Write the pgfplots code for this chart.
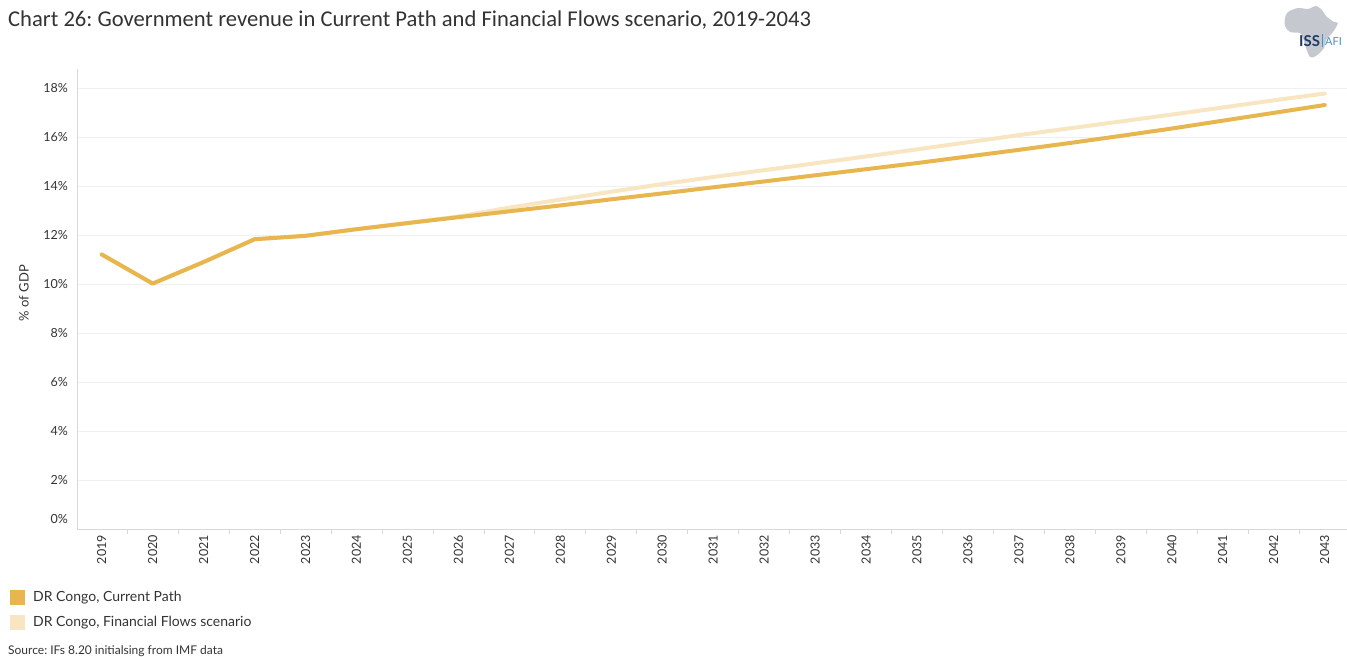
\documentclass[border=0pt]{standalone}
\usepackage{pgfplots}
\pgfplotsset{compat=1.18}
\usepackage{fontspec}
\setmainfont{Lato}
\newfontfamily\titlefont{Carlito}
\frenchspacing
\definecolor{cp}{HTML}{E8B64F}
\definecolor{ff}{HTML}{F8E5C2}
\definecolor{gridc}{HTML}{F0F0F0}
\definecolor{axc}{HTML}{D9D9D9}
\definecolor{txt}{HTML}{333333}
\definecolor{navy}{HTML}{1F3A64}
\definecolor{lblue}{HTML}{4A90C8}
\definecolor{africa}{HTML}{C5C9CF}
\begin{document}
\begin{tikzpicture}
\useasboundingbox (0,0) rectangle (1347bp,-657bp);
\begin{axis}[
  at={(77bp,-529bp)}, anchor=south west,
  width=1270.7bp, height=460bp, scale only axis,
  xmin=2018.515, xmax=2043.45, ymin=0, ymax=18.78,
  axis x line*=bottom, axis y line*=left,
  axis line style={axc, line width=1bp, -},
  xtick={2019,...,2043},
  minor xtick={2019.5,2020.5,...,2042.5},
  major tick length=0pt, minor tick length=5bp,
  minor tick style={axc, line width=0.8bp}, tick align=outside,
  ytick={2,4,...,18},
  extra y ticks={0},
  extra y tick style={yticklabel style={yshift=10bp}, grid=none},
  ymajorgrids, major grid style={gridc, line width=1bp},
  yticklabel={\pgfmathprintnumber{\tick}\%},
  /pgf/number format/1000 sep={}, /pgf/number format/assume math mode=true,
  tick label style={font=\fontsize{12.5bp}{14bp}\selectfont, text=txt},
  xticklabel style={rotate=90, anchor=east, inner xsep=6bp, inner ysep=0pt},
  yticklabel style={anchor=east, inner sep=0pt, xshift=-9bp},
  ylabel={\% of GDP},
  every axis y label/.style={at={(axis description cs:-0.0417,0.513)}, rotate=90, anchor=center, font=\fontsize{13bp}{15bp}\selectfont, text=txt},
  legend style={at={(axis description cs:-0.0543,-0.131)}, anchor=north west, draw=none, fill=none, font=\fontsize{14bp}{16bp}\selectfont, text=txt, row sep=9bp, inner sep=0pt, cells={anchor=west}},
  legend image code/.code={\fill[#1, draw=none] (2bp,-7.5bp) rectangle (17bp,7.5bp); \path[draw=none, fill=none] (0bp,0bp) rectangle (23bp,0bp);},
  reverse legend,
]
\addplot[ff, line width=4bp, line join=round, line cap=round] coordinates {
(2019,11.21) (2020,10.02) (2021,10.90) (2022,11.83) (2023,11.97) (2024,12.24) (2025,12.49)
(2026,12.76) (2027,13.12) (2028,13.45) (2029,13.77) (2030,14.08) (2031,14.37) (2032,14.65)
(2033,14.93) (2034,15.21) (2035,15.50) (2036,15.79) (2037,16.08) (2038,16.36) (2039,16.64)
(2040,16.92) (2041,17.21) (2042,17.50) (2043,17.78)};
\addlegendentry{DR Congo, Financial Flows scenario}
\addplot[cp, line width=4bp, line join=round, line cap=round] coordinates {
(2019,11.21) (2020,10.02) (2021,10.90) (2022,11.83) (2023,11.97) (2024,12.24) (2025,12.49)
(2026,12.73) (2027,12.97) (2028,13.21) (2029,13.46) (2030,13.70) (2031,13.95) (2032,14.19)
(2033,14.44) (2034,14.69) (2035,14.94) (2036,15.21) (2037,15.48) (2038,15.76) (2039,16.05)
(2040,16.35) (2041,16.67) (2042,16.99) (2043,17.31)};
\addlegendentry{DR Congo, Current Path}
\end{axis}
\begin{scope}[x=1bp,y=-1bp]
\node[anchor=base west, inner sep=0pt, text=txt, font=\titlefont\fontsize{22.6bp}{25bp}\selectfont] at (8,26) {Chart 26: Government revenue in Current Path and Financial Flows scenario, 2019-2043};
\node[anchor=base west, inner sep=0pt, text=txt, font=\fontsize{12bp}{14bp}\selectfont] at (8,654) {Source: IFs 8.20 initialsing from IMF data};
\fill[africa] plot[smooth cycle, tension=0.5] coordinates {(1288,12) (1298,8) (1308,9) (1316,6) (1322,10) (1326,16) (1334,22) (1338,23) (1333,32) (1326,40) (1324,48) (1316,56) (1310,57) (1306,48) (1303,38) (1300,33) (1290,32) (1285,26) (1285,18)};
\node[anchor=base west, inner sep=0pt, text=navy, font=\bfseries\fontsize{15bp}{16bp}\selectfont] at (1299,46) {ISS};
\draw[lblue, line width=0.8bp] (1322,34) -- (1322,47);
\node[anchor=base west, inner sep=0pt, text=lblue, font=\fontsize{11bp}{12bp}\selectfont] at (1325,45) {AFI};
\end{scope}
\end{tikzpicture}
\end{document}
